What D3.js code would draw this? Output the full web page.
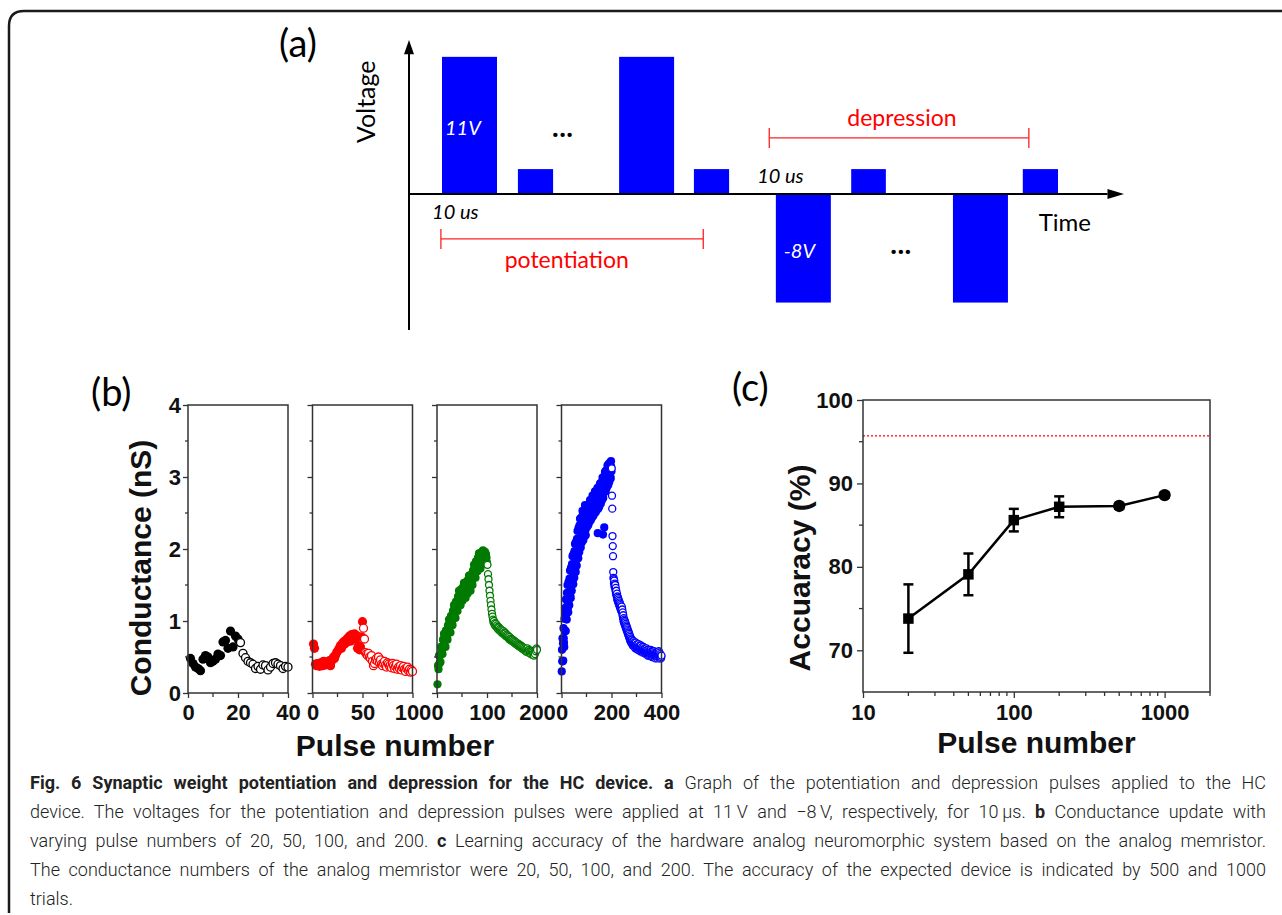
<!DOCTYPE html>
<html>
<head>
<meta charset="utf-8">
<script src="https://cdn.jsdelivr.net/npm/d3@7"></script>
<style>
  body { margin: 0; background: #fff; }
  svg { display: block; }
  text { white-space: pre; }
</style>
</head>
<body>
<div id="fig"></div>
<script>
// ---- (a) pulse scheme: start / end time (arb. units), amplitude (V) ----
const pulseStart = [6, 19.8, 38.2, 51.8, 66.7, 80.4, 98.9, 111.6];
const pulseEnd   = [16, 26.2, 48.2, 58.2, 76.7, 86.7, 108.9, 118];
const pulseVolt  = [11, 2, 11, 2, -8.7, 2, -8.7, 2];
const potRange = [5.8, 53.5];
const depRange = [65.5, 112.7];

// ---- (b) conductance (nS), potentiation then depression ----
const cond20Pot = [0.48,0.41,0.36,0.34,0.31,0.47,0.52,0.50,0.42,0.44,0.47,0.54,0.52,0.71,0.73,0.62,0.86,0.64,0.79,0.75];
const cond20Dep = [0.70,0.55,0.49,0.44,0.42,0.40,0.34,0.37,0.33,0.39,0.38,0.32,0.36,0.41,0.42,0.40,0.38,0.34,0.37,0.36];

const cond50Pot = [0.68,0.62,0.40,0.38,0.41,0.39,0.37,0.42,0.40,0.38,0.44,0.41,0.39,0.43,0.40,0.42,0.45,0.38,0.44,0.47,
  0.50,0.48,0.52,0.56,0.58,0.60,0.63,0.66,0.62,0.69,0.71,0.68,0.73,0.70,0.76,0.74,0.79,0.72,0.81,0.78,
  0.77,0.82,0.75,0.80,0.62,0.66,0.60,0.64,0.78,0.99];
const cond50Dep = [0.90,0.75,0.56,0.54,0.52,0.55,0.50,0.48,0.52,0.44,0.38,0.41,0.46,0.48,0.44,0.50,0.42,0.46,0.40,0.38,
  0.41,0.44,0.39,0.36,0.42,0.40,0.37,0.39,0.35,0.41,0.38,0.34,0.37,0.40,0.33,0.36,0.34,0.38,0.32,0.35,
  0.37,0.33,0.30,0.34,0.36,0.31,0.33,0.29,0.32,0.30];

const cond100Pot = [0.12,0.38,0.33,0.52,0.41,0.52,0.43,0.64,0.58,0.56,
  0.54,0.74,0.65,0.82,0.65,0.78,0.64,0.87,0.80,0.77,
  0.74,0.94,0.85,1.02,0.85,0.98,0.84,1.07,1.00,0.97,
  0.94,1.14,1.05,1.22,1.05,1.18,1.04,1.27,1.20,1.17,
  1.14,1.34,1.25,1.42,1.25,1.37,1.22,1.44,1.36,1.32,
  1.28,1.47,1.37,1.53,1.35,1.47,1.32,1.54,1.46,1.42,
  1.38,1.57,1.47,1.63,1.45,1.57,1.42,1.64,1.56,1.53,
  1.50,1.70,1.61,1.78,1.61,1.74,1.60,1.83,1.76,1.73,
  1.69,1.88,1.78,1.94,1.76,1.88,1.73,1.95,1.87,1.83,
  1.79,1.98,1.88,1.96,1.85,1.96,1.79,1.93,1.88,1.81];
const cond100Dep = [1.78,1.65,1.58,1.50,1.42,1.35,1.28,1.22,1.16,1.10,
  1.06,1.02,0.98,1.00,0.95,0.97,0.93,0.96,0.92,0.94,
  0.90,0.92,0.88,0.91,0.87,0.89,0.86,0.88,0.84,0.87,
  0.85,0.83,0.86,0.82,0.84,0.80,0.83,0.79,0.81,0.78,
  0.80,0.77,0.79,0.75,0.78,0.74,0.76,0.73,0.75,0.72,
  0.74,0.71,0.73,0.70,0.72,0.69,0.71,0.68,0.70,0.67,
  0.69,0.66,0.68,0.65,0.67,0.64,0.66,0.63,0.65,0.62,
  0.64,0.61,0.63,0.60,0.62,0.59,0.61,0.58,0.60,0.57,
  0.62,0.59,0.56,0.60,0.58,0.55,0.57,0.54,0.58,0.56,
  0.53,0.57,0.55,0.52,0.56,0.54,0.60,0.58,0.62,0.60];

const cond200Pot = [0.30,0.60,0.44,0.76,0.44,0.69,0.45,0.90,0.76,0.70,
  0.64,1.03,0.87,1.18,0.86,1.10,0.86,1.30,1.16,1.10,
  1.02,1.39,1.21,1.50,1.16,1.38,1.12,1.54,1.38,1.30,
  1.22,1.59,1.41,1.70,1.36,1.58,1.32,1.74,1.58,1.50,
  1.42,1.79,1.61,1.90,1.56,1.77,1.51,1.93,1.77,1.68,
  1.60,1.97,1.79,2.07,1.73,1.95,1.68,2.10,1.94,1.85,
  1.77,2.14,1.96,2.25,1.91,2.13,1.87,2.29,2.13,2.05,
  1.96,2.33,2.14,2.42,2.08,2.29,2.02,2.43,2.27,2.18,
  2.09,2.45,2.25,2.53,2.18,2.39,2.12,2.52,2.35,2.26,
  2.17,2.52,2.33,2.61,2.25,2.46,2.19,2.59,2.42,2.33,
  2.30,2.54,2.41,2.61,2.36,2.51,2.33,2.61,2.49,2.43,
  2.37,2.61,2.48,2.68,2.43,2.58,2.40,2.68,2.56,2.49,
  2.43,2.68,2.54,2.74,2.50,2.64,2.46,2.74,2.62,2.55,
  2.49,2.73,2.60,2.80,2.55,2.70,2.51,2.80,2.67,2.61,
  2.54,2.79,2.65,2.85,2.22,2.75,2.56,2.85,2.72,2.65,
  2.59,2.84,2.71,2.91,2.66,2.81,2.63,2.92,2.79,2.73,
  2.67,2.92,2.79,2.99,2.74,2.20,2.71,3.00,2.87,2.81,
  2.30,3.00,2.87,3.07,2.83,2.98,2.80,3.09,2.97,2.91,
  2.85,3.10,2.96,3.16,2.92,3.07,2.89,3.18,3.05,2.99,
  2.93,3.18,3.05,3.20,3.01,3.16,2.98,3.22,3.14,3.08];
const cond200Dep = [3.12,2.74,2.56,2.18,2.04,1.90,1.68,1.60,1.58,1.52,
  1.56,1.48,1.52,1.46,1.50,1.42,1.46,1.38,1.42,1.36,
  1.34,1.38,1.30,1.34,1.28,1.32,1.26,1.30,1.24,1.28,
  1.22,1.26,1.20,1.24,1.18,1.22,1.16,1.20,1.14,1.18,
  1.20,1.12,1.16,1.08,1.12,1.04,1.08,1.00,1.04,0.98,
  1.02,0.96,1.00,0.94,0.98,0.92,0.96,0.90,0.94,0.88,
  0.92,0.86,0.90,0.84,0.88,0.82,0.86,0.80,0.84,0.78,
  0.82,0.76,0.80,0.74,0.78,0.72,0.76,0.70,0.74,0.72,
  0.70,0.74,0.68,0.72,0.66,0.70,0.68,0.72,0.66,0.70,
  0.68,0.64,0.70,0.66,0.62,0.68,0.64,0.70,0.66,0.62,
  0.66,0.62,0.68,0.64,0.60,0.66,0.62,0.68,0.64,0.60,
  0.64,0.60,0.66,0.62,0.58,0.64,0.60,0.66,0.62,0.58,
  0.62,0.58,0.64,0.60,0.56,0.62,0.58,0.64,0.60,0.56,
  0.62,0.58,0.60,0.56,0.62,0.58,0.54,0.60,0.56,0.62,
  0.58,0.54,0.60,0.56,0.52,0.58,0.54,0.60,0.56,0.52,
  0.58,0.54,0.56,0.52,0.58,0.54,0.60,0.56,0.52,0.58,
  0.54,0.50,0.56,0.52,0.58,0.54,0.50,0.56,0.52,0.58,
  0.54,0.50,0.56,0.52,0.48,0.54,0.50,0.56,0.52,0.54,
  0.50,0.56,0.52,0.48,0.54,0.50,0.56,0.52,0.58,0.54,
  0.50,0.56,0.52,0.48,0.54,0.50,0.52,0.48,0.50,0.52];

const bPulseCounts = [20, 50, 100, 200];
const bPotSeries = [cond20Pot, cond50Pot, cond100Pot, cond200Pot];
const bDepSeries = [cond20Dep, cond50Dep, cond100Dep, cond200Dep];
const bColors = ["#000000", "#ff0000", "#007a00", "#0000ff"];
const bXTicks = [[0, 20, 40], [0, 50, 100], [0, 100, 200], [0, 200, 400]];
const bYTicks = [0, 1, 2, 3, 4];

// ---- (c) accuracy vs pulse number ----
const accPulses = [20, 50, 100, 200, 500, 1000];
const accMean   = [73.8, 79.1, 85.6, 87.2, 87.3, 88.6];
const accErr    = [4.1, 2.5, 1.35, 1.25, 0.3, 0.3];
const accMarker = ["square", "square", "square", "square", "circle", "circle"];
const accTarget = 95.7;
const cYTicks = [70, 80, 90, 100];
const cXTicks = [10, 100, 1000];

// ---- caption ----
const captionLines = [
  [{t: "Fig. 6 Synaptic weight potentiation and depression for the HC device.", b: true}, {t: " "}, {t: "a", b: true}, {t: " Graph of the potentiation and depression pulses applied to the HC"}],
  [{t: "device. The voltages for the potentiation and depression pulses were applied at 11\u2009V and \u22128\u2009V, respectively, for 10\u2009\u00b5s. "}, {t: "b", b: true}, {t: " Conductance update with"}],
  [{t: "varying pulse numbers of 20, 50, 100, and 200. "}, {t: "c", b: true}, {t: " Learning accuracy of the hardware analog neuromorphic system based on the analog memristor."}],
  [{t: "The conductance numbers of the analog memristor were 20, 50, 100, and 200. The accuracy of the expected device is indicated by 500 and 1000"}],
  [{t: "trials."}]
];

const W = 1282, H = 915;
const sansC = "Lato, 'Open Sans', sans-serif";
const sansB = "'Liberation Sans', Arial, sans-serif";

const svg = d3.select("#fig").append("svg")
    .attr("width", W)
    .attr("height", H);

// outer frame (rounded top-left corner)
svg.append("path")
    .attr("d", "M1282,11 H24 Q9,11 9,26 V913")
    .attr("fill", "none")
    .attr("stroke", "#1a1a1a")
    .attr("stroke-width", 2.5);

// ================= (a) =================
const xa = d3.scaleLinear().domain([0, 130]).range([409, 1124]);
const ya = d3.scaleLinear().domain([-10.9, 12.35]).range([330, 40]);
const ga = svg.append("g");

ga.selectAll("rect.pulse")
    .data(pulseVolt)
    .join("rect")
    .attr("class", "pulse")
    .attr("x", (d, i) => xa(pulseStart[i]))
    .attr("width", (d, i) => xa(pulseEnd[i]) - xa(pulseStart[i]))
    .attr("y", d => ya(Math.max(0, d)))
    .attr("height", d => Math.abs(ya(d) - ya(0)))
    .attr("fill", "#0000ff");

// axes with arrows
ga.append("line")
    .attr("x1", xa(0)).attr("x2", xa(127))
    .attr("y1", ya(0)).attr("y2", ya(0))
    .attr("stroke", "#000").attr("stroke-width", 2);
ga.append("path")
    .attr("d", `M${xa(130)},${ya(0)} L${xa(127)},${ya(0) - 5} L${xa(127)},${ya(0) + 5} Z`)
    .attr("fill", "#000");
ga.append("line")
    .attr("x1", xa(0)).attr("x2", xa(0))
    .attr("y1", ya(-10.9)).attr("y2", ya(11.3))
    .attr("stroke", "#000").attr("stroke-width", 2);
ga.append("path")
    .attr("d", `M${xa(0)},${ya(12.35)} L${xa(0) - 5},${ya(11.2)} L${xa(0) + 5},${ya(11.2)} Z`)
    .attr("fill", "#000");

ga.append("text")
    .attr("transform", `translate(375,${ya(7.4)}) rotate(-90)`)
    .attr("text-anchor", "middle")
    .attr("font-family", sansC).attr("font-size", 25)
    .text("Voltage");

ga.append("text")
    .attr("x", 279).attr("y", 57)
    .attr("font-family", sansC).attr("font-size", 38)
    .text("(a)");

ga.append("text")
    .attr("x", xa(pulseStart[0]) + 3).attr("y", ya(4.7))
    .attr("font-family", sansC).attr("font-size", 20).attr("font-style", "italic")
    .attr("fill", "#fff")
    .text("11V");
ga.append("text")
    .attr("x", xa(pulseStart[4]) + 8).attr("y", ya(-5.1))
    .attr("font-family", sansC).attr("font-size", 20).attr("font-style", "italic")
    .attr("fill", "#fff")
    .text("-8V");

ga.append("text")
    .attr("x", xa(28)).attr("y", ya(4.6))
    .attr("text-anchor", "middle")
    .attr("font-family", sansC).attr("font-size", 26).attr("font-weight", 900)
    .attr("letter-spacing", 1)
    .text("...");
ga.append("text")
    .attr("x", xa(89.5)).attr("y", ya(-4.8))
    .attr("text-anchor", "middle")
    .attr("font-family", sansC).attr("font-size", 26).attr("font-weight", 900)
    .attr("letter-spacing", 1)
    .text("...");

ga.append("text")
    .attr("x", xa(4.2)).attr("y", ya(-2))
    .attr("font-family", sansC).attr("font-size", 20).attr("font-style", "italic")
    .text("10 us");
ga.append("text")
    .attr("x", xa(63.3)).attr("y", ya(0.9))
    .attr("font-family", sansC).attr("font-size", 20).attr("font-style", "italic")
    .text("10 us");

ga.append("text")
    .attr("x", xa(114.5)).attr("y", ya(-3))
    .attr("font-family", sansC).attr("font-size", 24)
    .text("Time");

// brackets
function bracket(range, y, label, labelX, labelY) {
    const g = ga.append("g").attr("stroke", "#ff2020").attr("stroke-width", 1.3);
    g.append("line").attr("x1", xa(range[0])).attr("x2", xa(range[1])).attr("y1", y).attr("y2", y);
    range.forEach(t => g.append("line").attr("x1", xa(t)).attr("x2", xa(t)).attr("y1", y - 10).attr("y2", y + 10));
    ga.append("text")
        .attr("x", labelX).attr("y", labelY)
        .attr("font-family", sansC).attr("font-size", 23)
        .attr("fill", "#ff0000")
        .text(label);
}
bracket(potRange, ya(-3.6), "potentiation", xa(17.4), ya(-5.9));
bracket(depRange, ya(4.5), "depression", xa(79.7), ya(5.45));

// ================= (b) =================
const yb = d3.scaleLinear().domain([0, 4]).range([693, 405]);
const gb = svg.append("g");

gb.append("text")
    .attr("x", 91).attr("y", 406)
    .attr("font-family", sansC).attr("font-size", 38)
    .text("(b)");

bPulseCounts.forEach((n, i) => {
    const left = 188 + i * 124.5;
    const xb = d3.scaleLinear().domain([0, 2 * n]).range([left, left + 100]);
    const g = gb.append("g");
    const r = i < 2 ? 4.6 : 4.1;

    g.selectAll("circle.pot")
        .data(bPotSeries[i])
        .join("circle")
        .attr("class", "pot")
        .attr("cx", (d, k) => xb(k + 1))
        .attr("cy", d => yb(d))
        .attr("r", r)
        .attr("fill", bColors[i]);

    g.selectAll("circle.dep")
        .data(bDepSeries[i])
        .join("circle")
        .attr("class", "dep")
        .attr("cx", (d, k) => xb(n + k + 1))
        .attr("cy", d => yb(d))
        .attr("r", r - 0.6)
        .attr("fill", "#fff")
        .attr("stroke", bColors[i])
        .attr("stroke-width", 1.3);

    // box
    g.append("rect")
        .attr("x", left).attr("y", yb(4))
        .attr("width", 100).attr("height", yb(0) - yb(4))
        .attr("fill", "none").attr("stroke", "#333").attr("stroke-width", 1.5);

    // minor ticks
    const xt = bXTicks[i];
    const minorX = [xt[0] + (xt[1] - xt[0]) / 2, xt[1] + (xt[2] - xt[1]) / 2];
    g.selectAll("line.mx").data(minorX).join("line")
        .attr("x1", d => xb(d)).attr("x2", d => xb(d))
        .attr("y1", yb(0)).attr("y2", yb(0) + 4)
        .attr("stroke", "#333").attr("stroke-width", 1.3);
    g.selectAll("line.my").data(d3.range(0.5, 4, 1)).join("line")
        .attr("x1", left).attr("x2", left - 3)
        .attr("y1", d => yb(d)).attr("y2", d => yb(d))
        .attr("stroke", "#333").attr("stroke-width", 1.3);

    const ax = g.append("g")
        .attr("transform", `translate(0,${yb(0)})`)
        .call(d3.axisBottom(xb).tickValues(xt).tickFormat(d3.format("d")).tickSize(5).tickSizeOuter(0).tickPadding(6));
    const ay = g.append("g")
        .attr("transform", `translate(${left},0)`)
        .call(d3.axisLeft(yb).tickValues(bYTicks).tickFormat(d3.format("d")).tickSize(5).tickSizeOuter(0).tickPadding(2));
    if (i > 0) ay.selectAll("text").remove();
    [ax, ay].forEach(a => {
        a.select(".domain").remove();
        a.selectAll("line").attr("stroke", "#333").attr("stroke-width", 1.3);
        a.selectAll("text")
            .attr("font-family", sansB).attr("font-size", 22).attr("font-weight", 700)
            .attr("fill", "#111");
    });
});

gb.append("text")
    .attr("transform", "translate(151,568) rotate(-90)")
    .attr("text-anchor", "middle")
    .attr("font-family", sansB).attr("font-size", 30).attr("font-weight", 700)
    .attr("fill", "#111")
    .text("Conductance (nS)");
gb.append("text")
    .attr("x", 395).attr("y", 756)
    .attr("text-anchor", "middle")
    .attr("font-family", sansB).attr("font-size", 30).attr("font-weight", 700)
    .attr("fill", "#111")
    .text("Pulse number");

// ================= (c) =================
const xc = d3.scaleLog().domain([10, 2000]).range([863, 1210]);
const yc = d3.scaleLinear().domain([65, 100]).range([692, 400]);
const gc = svg.append("g");

gc.append("text")
    .attr("x", 732).attr("y", 401)
    .attr("font-family", sansC).attr("font-size", 38)
    .text("(c)");

gc.append("line")
    .attr("x1", xc(10)).attr("x2", xc(2000))
    .attr("y1", yc(accTarget)).attr("y2", yc(accTarget))
    .attr("stroke", "#ff0000").attr("stroke-width", 1.4)
    .attr("stroke-dasharray", "2,2");

gc.append("rect")
    .attr("x", xc(10)).attr("y", yc(100))
    .attr("width", xc(2000) - xc(10)).attr("height", yc(65) - yc(100))
    .attr("fill", "none").attr("stroke", "#333").attr("stroke-width", 1.5);

// minor ticks
const cMinorX = [20, 30, 40, 50, 60, 70, 80, 90, 200, 300, 400, 500, 600, 700, 800, 900, 2000];
gc.selectAll("line.mx").data(cMinorX).join("line")
    .attr("x1", d => xc(d)).attr("x2", d => xc(d))
    .attr("y1", yc(65)).attr("y2", yc(65) + 4)
    .attr("stroke", "#333").attr("stroke-width", 1.3);
gc.selectAll("line.my").data([75, 85, 95]).join("line")
    .attr("x1", xc(10)).attr("x2", xc(10) - 4)
    .attr("y1", d => yc(d)).attr("y2", d => yc(d))
    .attr("stroke", "#333").attr("stroke-width", 1.3);

const cax = gc.append("g")
    .attr("transform", `translate(0,${yc(65)})`)
    .call(d3.axisBottom(xc).tickValues(cXTicks).tickFormat(d3.format("d")).tickSize(6).tickSizeOuter(0).tickPadding(6));
const cay = gc.append("g")
    .attr("transform", `translate(${xc(10)},0)`)
    .call(d3.axisLeft(yc).tickValues(cYTicks).tickSize(6).tickSizeOuter(0).tickPadding(4));
[cax, cay].forEach(a => {
    a.select(".domain").remove();
    a.selectAll("line").attr("stroke", "#333").attr("stroke-width", 1.3);
    a.selectAll("text")
        .attr("font-family", sansB).attr("font-size", 22).attr("font-weight", 700)
        .attr("fill", "#111");
});

// line + error bars + markers
gc.append("path")
    .datum(accPulses)
    .attr("d", d3.line().x(d => xc(d)).y((d, i) => yc(accMean[i])))
    .attr("fill", "none").attr("stroke", "#000").attr("stroke-width", 2.5);

const eb = gc.selectAll("g.eb").data(accPulses).join("g").attr("class", "eb")
    .attr("stroke", "#000").attr("stroke-width", 2.5);
eb.append("line")
    .attr("x1", d => xc(d)).attr("x2", d => xc(d))
    .attr("y1", (d, i) => yc(accMean[i] + accErr[i]))
    .attr("y2", (d, i) => yc(accMean[i] - accErr[i]));
eb.append("line")
    .attr("x1", d => xc(d) - 5).attr("x2", d => xc(d) + 5)
    .attr("y1", (d, i) => yc(accMean[i] + accErr[i]))
    .attr("y2", (d, i) => yc(accMean[i] + accErr[i]));
eb.append("line")
    .attr("x1", d => xc(d) - 5).attr("x2", d => xc(d) + 5)
    .attr("y1", (d, i) => yc(accMean[i] - accErr[i]))
    .attr("y2", (d, i) => yc(accMean[i] - accErr[i]));

gc.selectAll("path.mk").data(accPulses).join("path")
    .attr("class", "mk")
    .attr("transform", (d, i) => `translate(${xc(d)},${yc(accMean[i])})`)
    .attr("d", (d, i) => d3.symbol(accMarker[i] === "square" ? d3.symbolSquare : d3.symbolCircle, accMarker[i] === "square" ? 110 : 120)())
    .attr("fill", "#000");

gc.append("text")
    .attr("transform", "translate(810,568) rotate(-90)")
    .attr("text-anchor", "middle")
    .attr("font-family", sansB).attr("font-size", 30).attr("font-weight", 700)
    .attr("fill", "#111")
    .text("Accuaracy (%)");
gc.append("text")
    .attr("x", xc(Math.sqrt(10 * 2000))).attr("y", 753)
    .attr("text-anchor", "middle")
    .attr("font-family", sansB).attr("font-size", 30).attr("font-weight", 700)
    .attr("fill", "#111")
    .text("Pulse number");

// ================= caption =================
const capX0 = 30, capX1 = 1266, capY0 = 789, capDy = 29;
const gcap = svg.append("g")
    .attr("font-family", "Roboto, 'Open Sans', sans-serif")
    .attr("font-size", 18)
    .attr("fill", "#222");
captionLines.forEach((segs, i) => {
    const t = gcap.append("text").attr("x", capX0).attr("y", capY0 + i * capDy);
    segs.forEach(s => t.append("tspan")
        .attr("font-weight", s.b ? 700 : 300)
        .text(s.t));
    if (i < captionLines.length - 1) {
        const w = t.node().getComputedTextLength();
        const nSpaces = segs.map(s => s.t).join("").split(" ").length - 1;
        t.style("word-spacing", ((capX1 - capX0 - w) / nSpaces) + "px");
    }
});
</script>
</body>
</html>
